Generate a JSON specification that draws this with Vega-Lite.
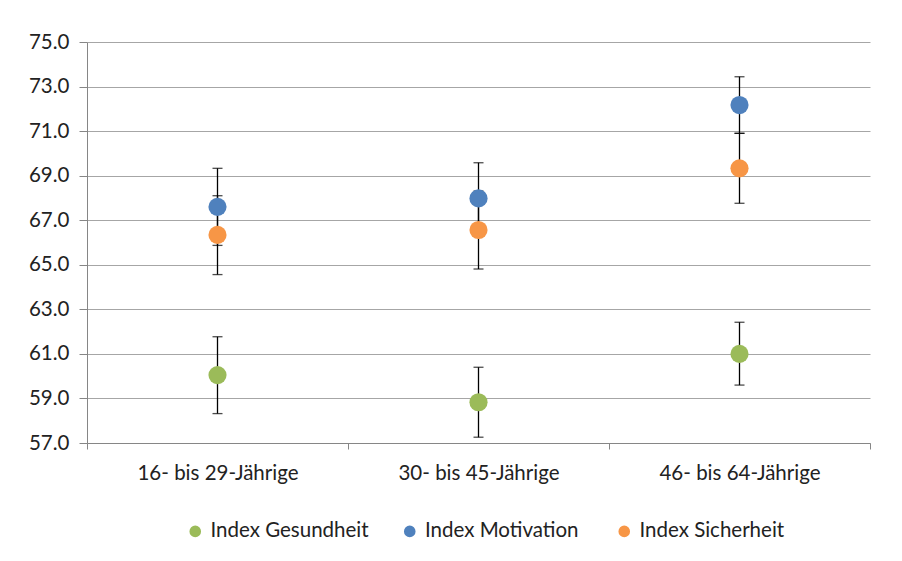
{
  "$schema": "https://vega.github.io/schema/vega-lite/v6.json",
  "width": 783,
  "height": 401,
  "autosize": "none",
  "padding": {"left": 87, "top": 42, "right": 32, "bottom": 118},
  "background": "white",
  "config": {
    "view": {"stroke": null},
    "font": "Lato",
    "axisY": {
      "labelFontSize": 20.5,
      "labelColor": "#222222",
      "labelPadding": 10,
      "tickSize": 8,
      "tickColor": "#868686",
      "domainColor": "#868686",
      "grid": true,
      "gridColor": "#A6A6A6",
      "gridWidth": 1
    }
  },
  "data": {
    "values": [
      {"group": "16- bis 29-Jährige", "series": "Index Gesundheit", "value": 60.05, "low": 58.32, "high": 61.77},
      {"group": "16- bis 29-Jährige", "series": "Index Motivation", "value": 67.6, "low": 65.87, "high": 69.33},
      {"group": "16- bis 29-Jährige", "series": "Index Sicherheit", "value": 66.34, "low": 64.56, "high": 68.1},
      {"group": "30- bis 45-Jährige", "series": "Index Gesundheit", "value": 58.83, "low": 57.26, "high": 60.4},
      {"group": "30- bis 45-Jährige", "series": "Index Motivation", "value": 67.98, "low": 66.38, "high": 69.58},
      {"group": "30- bis 45-Jährige", "series": "Index Sicherheit", "value": 66.56, "low": 64.81, "high": 68.31},
      {"group": "46- bis 64-Jährige", "series": "Index Gesundheit", "value": 61.0, "low": 59.6, "high": 62.42},
      {"group": "46- bis 64-Jährige", "series": "Index Motivation", "value": 72.17, "low": 70.9, "high": 73.44},
      {"group": "46- bis 64-Jährige", "series": "Index Sicherheit", "value": 69.33, "low": 67.76, "high": 70.9}
    ]
  },
  "encoding": {
    "x": {
      "field": "group",
      "type": "nominal",
      "sort": null,
      "scale": {"paddingInner": 0, "paddingOuter": 0},
      "axis": {
        "title": null,
        "labelAngle": 0,
        "labelFontSize": 20.5,
        "labelColor": "#222222",
        "labelPadding": 14,
        "domainColor": "#868686",
        "tickColor": "#868686",
        "tickSize": 6,
        "tickBand": "extent",
        "grid": false
      }
    }
  },
  "layer": [
    {
      "mark": {"type": "rule", "color": "black", "strokeWidth": 1.3},
      "encoding": {
        "y": {
          "field": "low",
          "type": "quantitative",
          "title": null,
          "scale": {"domain": [57, 75], "zero": false, "nice": false},
          "axis": {"title": null, "values": [57, 59, 61, 63, 65, 67, 69, 71, 73, 75], "format": ".1f"}
        },
        "y2": {"field": "high"}
      }
    },
    {
      "mark": {"type": "tick", "color": "black", "size": 10, "thickness": 1.3},
      "encoding": {
        "y": {"field": "low", "type": "quantitative", "title": null, "scale": {"domain": [57, 75], "zero": false, "nice": false},
          "axis": {"title": null, "values": [57, 59, 61, 63, 65, 67, 69, 71, 73, 75], "format": ".1f"}}
      }
    },
    {
      "mark": {"type": "tick", "color": "black", "size": 10, "thickness": 1.3},
      "encoding": {
        "y": {"field": "high", "type": "quantitative", "title": null, "scale": {"domain": [57, 75], "zero": false, "nice": false},
          "axis": {"title": null, "values": [57, 59, 61, 63, 65, 67, 69, 71, 73, 75], "format": ".1f"}}
      }
    },
    {
      "mark": {"type": "circle", "size": 330, "opacity": 1},
      "encoding": {
        "y": {"field": "value", "type": "quantitative", "title": null, "scale": {"domain": [57, 75], "zero": false, "nice": false},
          "axis": {"title": null, "values": [57, 59, 61, 63, 65, 67, 69, 71, 73, 75], "format": ".1f"}},
        "color": {
          "field": "series",
          "type": "nominal",
          "scale": {
            "domain": ["Index Gesundheit", "Index Motivation", "Index Sicherheit"],
            "range": ["#9BBB59", "#4F81BD", "#F79646"]
          },
          "legend": {
            "title": null,
            "orient": "none",
            "legendX": 98,
            "legendY": 479,
            "direction": "horizontal",
            "columns": 3,
            "gridAlign": "all",
            "columnPadding": 30.5,
            "padding": 0,
            "symbolType": "circle",
            "symbolSize": 135,
            "symbolStrokeWidth": 0,
            "labelFontSize": 20.5,
            "labelColor": "#222222",
            "labelOffset": 5,
            "labelLimit": 300
          }
        }
      }
    }
  ]
}
